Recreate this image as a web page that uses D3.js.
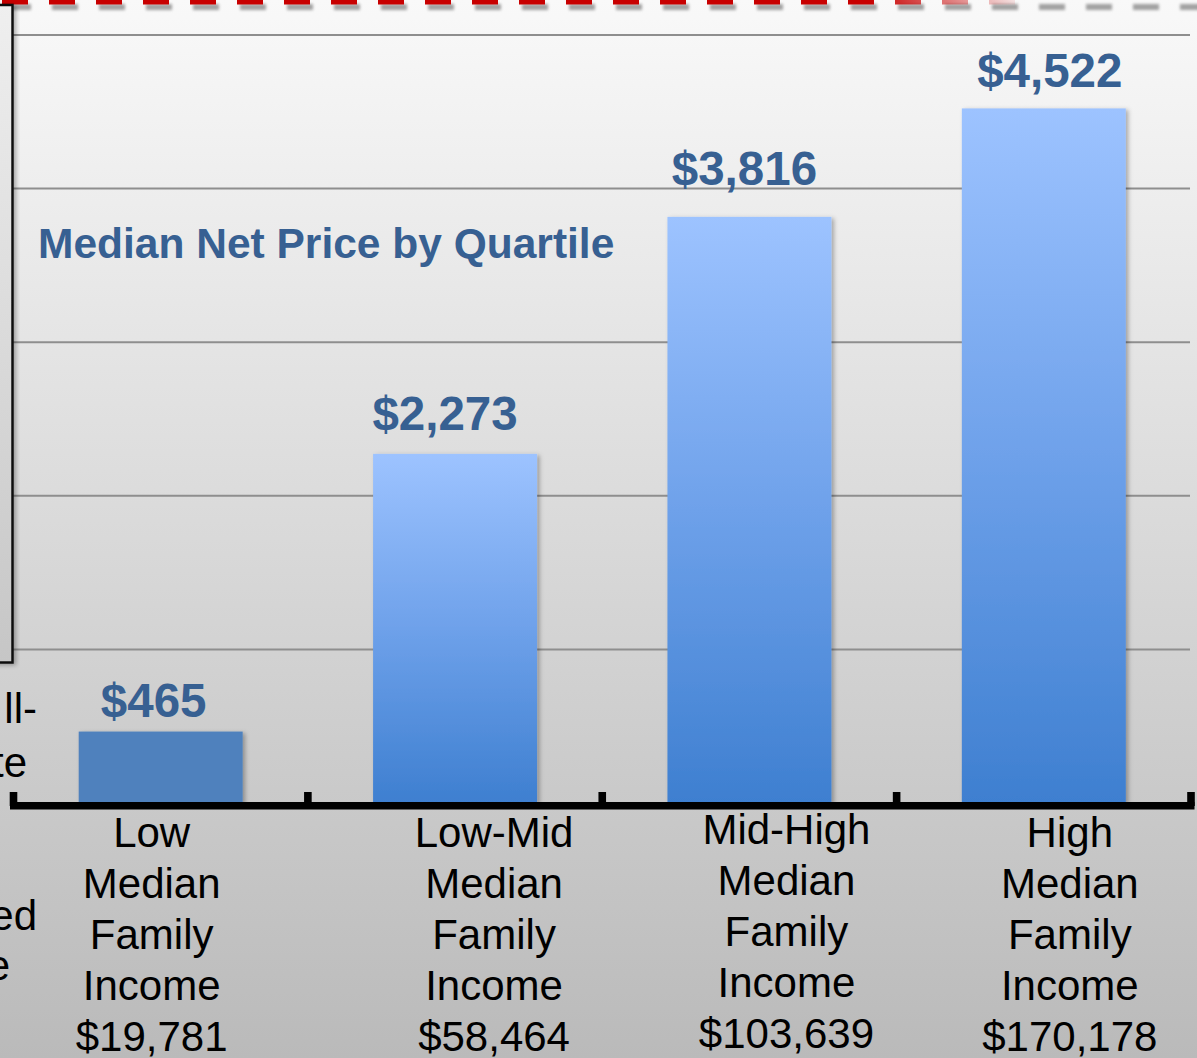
<!DOCTYPE html>
<html>
<head>
<meta charset="utf-8">
<script src="https://cdn.jsdelivr.net/npm/d3@7"></script>
<style>
  html, body { margin: 0; padding: 0; overflow: hidden; background: #f8f8f8; }
  svg { display: block; }
  text { font-family: "Liberation Sans", Arial, Helvetica, sans-serif; }
</style>
</head>
<body>
<svg id="chart" width="1197" height="1058"></svg>
<script>
// ---- data ----
const categories = ["Low", "Low-Mid", "Mid-High", "High"];
const netPrice = [465, 2273, 3816, 4522];
const valueLabels = ["$465", "$2,273", "$3,816", "$4,522"];
const categoryLines = [
  ["Low", "Median", "Family", "Income", "$19,781"],
  ["Low-Mid", "Median", "Family", "Income", "$58,464"],
  ["Mid-High", "Median", "Family", "Income", "$103,639"],
  ["High", "Median", "Family", "Income", "$170,178"]
];
const gridValues = [1000, 2000, 3000, 4000, 5000];
const chartTitle = "Median Net Price by Quartile";
const leftFragments = ["ll-", "te", "ed", "e"];

// ---- layout ----
const W = 1197, H = 1058;
const svg = d3.select("#chart");
const defs = svg.append("defs");

const x = d3.scaleBand().domain(categories).range([13.5, 1191])
  .paddingInner(0.443).paddingOuter(0.2215);
const y = d3.scaleLinear().domain([0, 5000]).range([803, 35]);

// background gradient
const bg = defs.append("linearGradient").attr("id", "bg").attr("x1", 0).attr("y1", 0).attr("x2", 0).attr("y2", 1);
bg.append("stop").attr("offset", 0).attr("stop-color", "#f9f9f9");
bg.append("stop").attr("offset", 1).attr("stop-color", "#bababa");
svg.append("rect").attr("width", W).attr("height", H).attr("fill", "url(#bg)");

// bar gradient
const bar = defs.append("linearGradient").attr("id", "barGrad").attr("x1", 0).attr("y1", 0).attr("x2", 0).attr("y2", 1);
bar.append("stop").attr("offset", 0).attr("stop-color", "#9dc3ff");
bar.append("stop").attr("offset", 0.5).attr("stop-color", "#6ea1ea");
bar.append("stop").attr("offset", 1).attr("stop-color", "#3e7fd0");

// box gradient
const boxG = defs.append("linearGradient").attr("id", "boxGrad").attr("x1", 0).attr("y1", 0).attr("x2", 0).attr("y2", 1);
boxG.append("stop").attr("offset", 0).attr("stop-color", "#efefef");
boxG.append("stop").attr("offset", 1).attr("stop-color", "#c6c6c6");

// dash fade gradient
const dashG = defs.append("linearGradient").attr("id", "dashGrad")
  .attr("gradientUnits", "userSpaceOnUse").attr("x1", 0).attr("y1", 0).attr("x2", W).attr("y2", 0);
dashG.append("stop").attr("offset", 870 / W).attr("stop-color", "#c80000").attr("stop-opacity", 1);
dashG.append("stop").attr("offset", 1030 / W).attr("stop-color", "#c80000").attr("stop-opacity", 0);

// filters
const blur = defs.append("filter").attr("id", "blur2").attr("filterUnits", "userSpaceOnUse")
  .attr("x", -20).attr("y", -20).attr("width", W + 60).attr("height", 60);
blur.append("feGaussianBlur").attr("stdDeviation", 1.8);

const shadow = defs.append("filter").attr("id", "shadow").attr("x", "-20%").attr("y", "-5%").attr("width", "150%").attr("height", "115%");
shadow.append("feDropShadow").attr("dx", 2.5).attr("dy", 1.5).attr("stdDeviation", 2)
  .attr("flood-color", "#000").attr("flood-opacity", 0.3);

// top dashed line (shadow + red)
svg.append("line").attr("x1", 5).attr("x2", W + 10).attr("y1", 7).attr("y2", 7)
  .attr("stroke", "#8a8a8a").attr("stroke-width", 6).attr("stroke-dasharray", "26,21")
  .attr("opacity", 0.8).attr("filter", "url(#blur2)");
svg.append("line").attr("x1", 2).attr("x2", W + 10).attr("y1", 2).attr("y2", 2)
  .attr("stroke", "url(#dashGrad)").attr("stroke-width", 5).attr("stroke-dasharray", "26,21");

// gridlines
svg.append("g").selectAll("line").data(gridValues).join("line")
  .attr("x1", 12).attr("x2", 1190)
  .attr("y1", d => y(d)).attr("y2", d => y(d))
  .attr("stroke", "#8e8e8e").attr("stroke-width", 2);

// left box
svg.append("rect").attr("x", -10).attr("y", 5).attr("width", 22.5).attr("height", 657.5)
  .attr("fill", "url(#boxGrad)").attr("stroke", "#111").attr("stroke-width", 2.5)
  .attr("filter", "url(#shadow)");

// left text fragments
const fragX = [37, 27, 37, 10];
const fragY = [723, 777, 930, 980];
svg.append("g").selectAll("text").data(leftFragments).join("text")
  .attr("x", (d, i) => fragX[i]).attr("y", (d, i) => fragY[i])
  .attr("text-anchor", "end").attr("font-size", 42).attr("fill", "#000")
  .text(d => d);

// bars
svg.append("g").selectAll("rect").data(netPrice).join("rect")
  .attr("x", (d, i) => x(categories[i]))
  .attr("width", x.bandwidth())
  .attr("y", d => y(d))
  .attr("height", d => y(0) - y(d))
  .attr("fill", (d, i) => i === 0 ? "#4f81bd" : "url(#barGrad)")
  .attr("filter", "url(#shadow)");

// axis line with ticks at band boundaries
const r0 = x.range()[0], step = x.step();
const bounds = d3.range(categories.length + 1).map(i => r0 + i * step);
const axisG = svg.append("g");
axisG.append("rect").attr("x", bounds[0] - 3.5).attr("y", 802).attr("width", bounds[bounds.length - 1] - bounds[0] + 7)
  .attr("height", 7.5).attr("fill", "#000");
axisG.selectAll("rect.tick").data(bounds).join("rect").attr("class", "tick")
  .attr("x", d => d - 3.8).attr("y", 792).attr("width", 7.6).attr("height", 14).attr("fill", "#000");

// value labels
const labelDx = [-7, -10, -5, 6];
const labelGap = [15, 24, 32, 21];
svg.append("g").selectAll("text").data(netPrice).join("text")
  .attr("x", (d, i) => x(categories[i]) + x.bandwidth() / 2 + labelDx[i])
  .attr("y", (d, i) => y(d) - labelGap[i])
  .attr("text-anchor", "middle").attr("font-size", 47.5).attr("font-weight", "bold")
  .attr("fill", "#376092")
  .text((d, i) => valueLabels[i]);

// title
svg.append("text").attr("x", 38).attr("y", 258)
  .attr("font-size", 42.5).attr("font-weight", "bold").attr("fill", "#376092")
  .text(chartTitle);

// category labels
const catDx = [-9, 39, 37, 26];
const catY0 = [847, 847, 844, 847];
const catG = svg.append("g");
categories.forEach((c, i) => {
  const cx = x(c) + x.bandwidth() / 2 + catDx[i];
  const t = catG.append("text").attr("text-anchor", "middle").attr("font-size", 42).attr("fill", "#000");
  categoryLines[i].forEach((line, j) => {
    t.append("tspan").attr("x", cx).attr("y", catY0[i] + j * 51).text(line);
  });
});
</script>
</body>
</html>
